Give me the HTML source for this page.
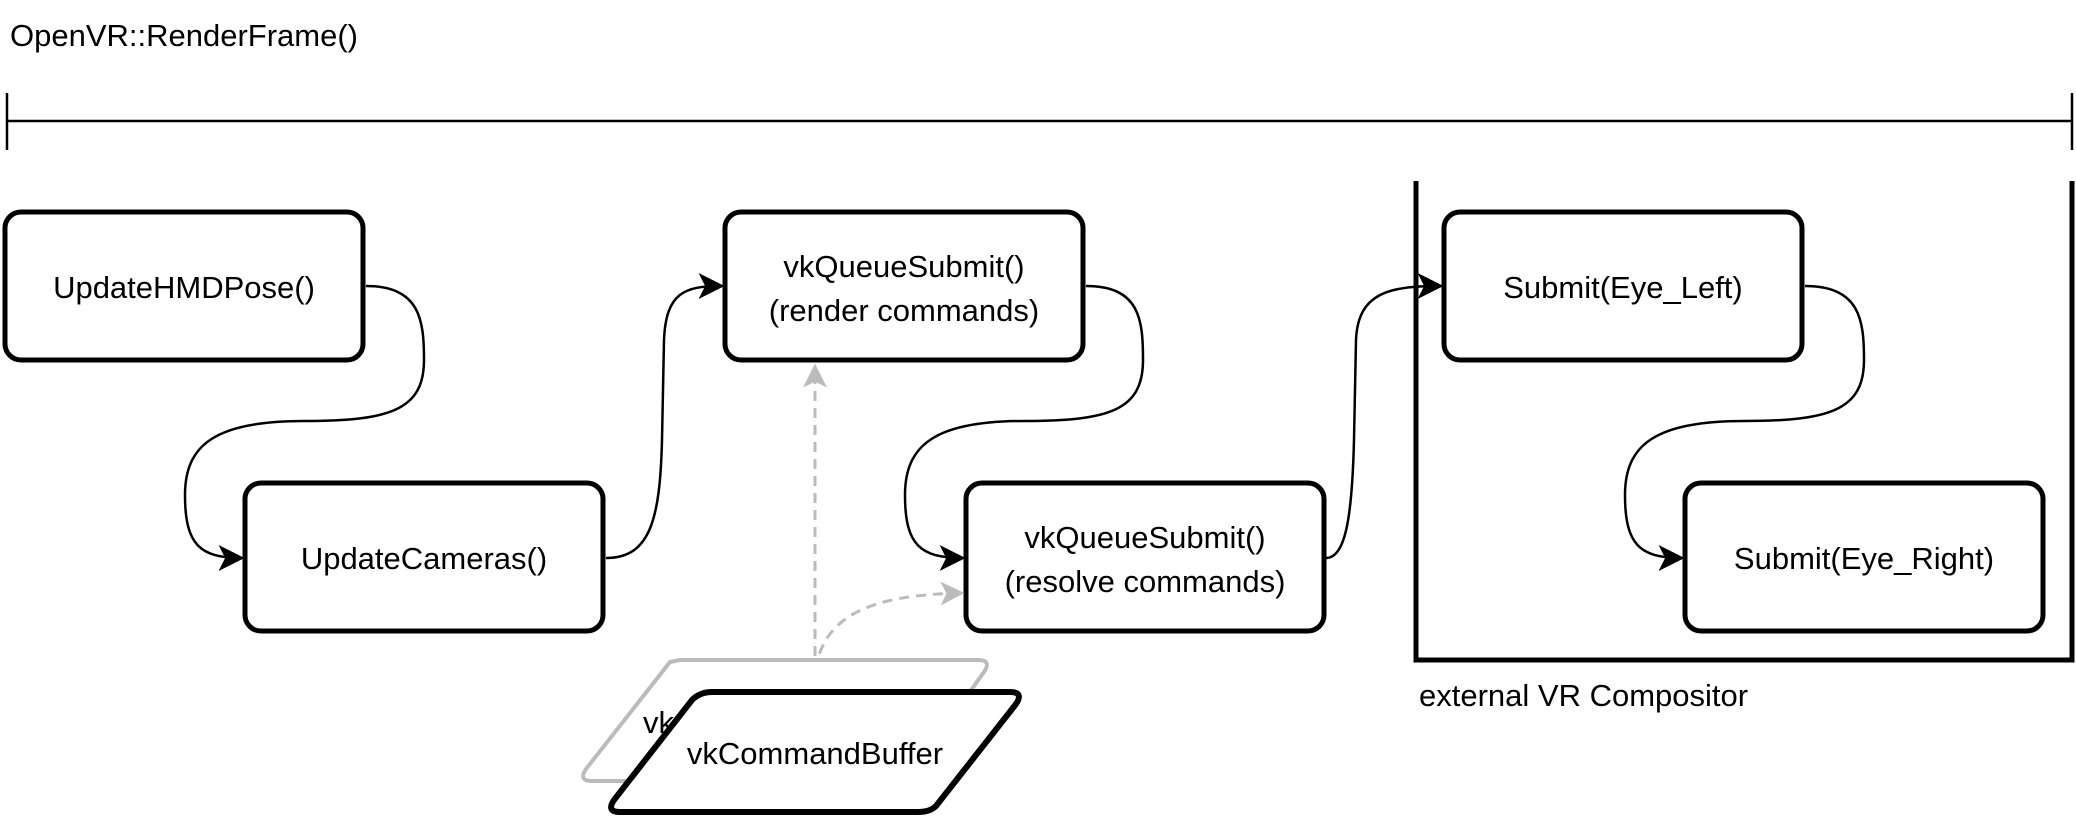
<!DOCTYPE html>
<html><head><meta charset="utf-8"><style>
html,body{margin:0;padding:0;background:#fff;}
svg{display:block;}
text{font-family:"Liberation Sans","DejaVu Sans",sans-serif;font-size:31px;fill:#000;}
</style></head><body>
<svg width="2076" height="816" viewBox="0 0 2076 816" xmlns="http://www.w3.org/2000/svg">
<defs>
<marker id="ab" viewBox="0 0 20 20" refX="18" refY="10" markerWidth="26" markerHeight="26" markerUnits="userSpaceOnUse" orient="auto">
<path d="M0,0 L20,10 L0,20 L5,10 Z" fill="#000"/></marker>
<marker id="ag" viewBox="0 0 20 20" refX="18" refY="10" markerWidth="24" markerHeight="24" markerUnits="userSpaceOnUse" orient="auto">
<path d="M0,0 L20,10 L0,20 L5,10 Z" fill="#bbb"/></marker>
</defs>
<text x="10" y="46">OpenVR::RenderFrame()</text>
<line x1="7" y1="121" x2="2072" y2="121" stroke="#000" stroke-width="2.5"/>
<line x1="7" y1="93" x2="7" y2="150" stroke="#000" stroke-width="2.5"/>
<line x1="2072" y1="93" x2="2072" y2="150" stroke="#000" stroke-width="2.5"/>

<path d="M1416,181 L1416,660 L2072,660 L2072,181" fill="none" stroke="#000" stroke-width="5"/>
<text x="1419" y="706">external VR Compositor</text>

<g fill="#fff" stroke="#000" stroke-width="5">
<rect x="5" y="212" width="358" height="148" rx="16"/>
<rect x="245" y="483" width="358" height="148" rx="16"/>
<rect x="725" y="212" width="358" height="148" rx="16"/>
<rect x="966" y="483" width="358" height="148" rx="16"/>
<rect x="1444" y="212" width="358" height="148" rx="16"/>
<rect x="1685" y="483" width="358" height="148" rx="16"/>
</g>
<g text-anchor="middle">
<text x="184" y="298">UpdateHMDPose()</text>
<text x="424" y="569">UpdateCameras()</text>
<text x="904" y="277">vkQueueSubmit()</text>
<text x="904" y="321">(render commands)</text>
<text x="1145" y="548">vkQueueSubmit()</text>
<text x="1145" y="592">(resolve commands)</text>
<text x="1623" y="298">Submit(Eye_Left)</text>
<text x="1864" y="569">Submit(Eye_Right)</text>
</g>

<g fill="none" stroke="#000" stroke-width="2.5">
<path d="M366,286 C420,286 424,320 424,360 C424,410 390,421 304,421 C215,421 185,445 185,495 C185,545 200,558 242,558" marker-end="url(#ab)"/>
<path d="M606,558 C650,558 660,520 662,440 L664,340 C666,292 685,286 722,286" marker-end="url(#ab)"/>
<path d="M1086,286 C1140,286 1143,320 1143,360 C1143,410 1110,421 1024,421 C935,421 905,445 905,495 C905,545 920,558 963,558" marker-end="url(#ab)"/>
<path d="M1326,558 C1345,558 1352,520 1354,440 L1356,340 C1358,292 1390,286 1441,286" marker-end="url(#ab)"/>
<path d="M1805,286 C1860,286 1864,320 1864,360 C1864,410 1830,421 1744,421 C1655,421 1625,445 1625,495 C1625,545 1640,558 1682,558" marker-end="url(#ab)"/>
</g>

<g fill="none" stroke="#bbb" stroke-width="3" stroke-dasharray="10,7">
<path d="M815,690 L815,366" marker-end="url(#ag)"/>
<path d="M815,670 C825,615 870,595 962,593" marker-end="url(#ag)"/>
</g>

<path d="M680,660 L978,660 Q992,660 984,672 L906,781 L592,781 Q578,781 586,769 L670,662 Z" fill="#fff" stroke="#bbb" stroke-width="4"/>
<text x="643" y="733">vk</text>
<path d="M712,692 L1010,692 Q1024,692 1016,704 L936,806 Q930,812 918,812 L620,812 Q606,812 614,800 L692,700 Q700,692 712,692 Z" fill="#fff" stroke="#000" stroke-width="6"/>
<text x="815" y="764" text-anchor="middle">vkCommandBuffer</text>
</svg>
</body></html>
